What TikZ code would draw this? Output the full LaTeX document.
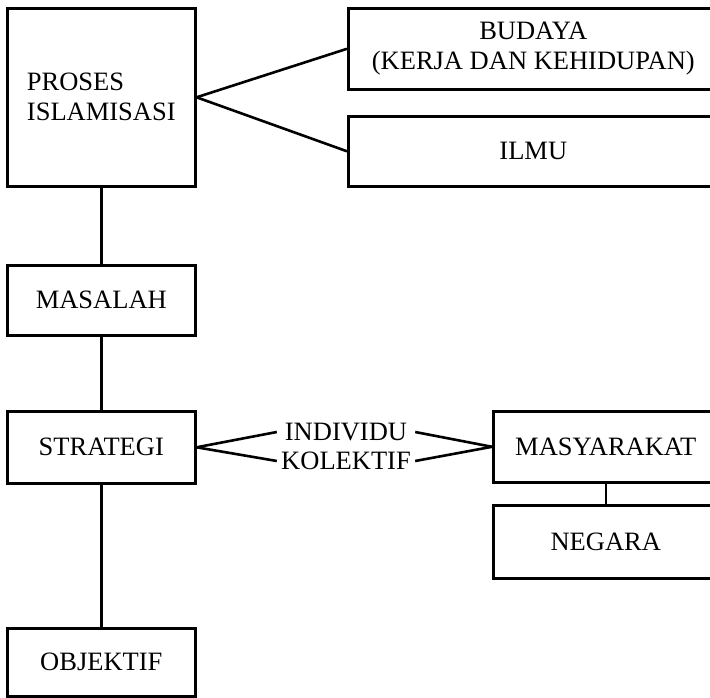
\documentclass[tikz,border=0pt]{standalone}
\usepackage{fontspec}
\setmainfont{Liberation Serif}
\begin{document}
\begin{tikzpicture}[x=1pt,y=-1pt,
  box/.style={draw, line width=2.6pt, anchor=north west, inner sep=0pt,
    font=\fontsize{26.5}{30}\selectfont, align=center},
  conn/.style={line width=2.6pt},
  lbl/.style={inner sep=0pt, minimum width=138pt, font=\fontsize{26.5}{30}\selectfont}]
\useasboundingbox (0,0) rectangle (710,698);
\node[box, minimum width=188pt, minimum height=178pt, align=left] (proses) at (6,7) {PROSES\\ISLAMISASI};
\node[box, minimum width=370pt, minimum height=81pt] (budaya) at (347,7) {BUDAYA\\(KERJA DAN KEHIDUPAN)};
\node[box, minimum width=370pt, minimum height=70pt] (ilmu) at (347,115) {ILMU};
\node[box, minimum width=188pt, minimum height=70pt] (masalah) at (6,264) {MASALAH};
\node[box, minimum width=188pt, minimum height=72pt] (strategi) at (6,410) {STRATEGI};
\node[box, minimum width=188pt, minimum height=68pt] (objektif) at (6,627) {OBJEKTIF};
\node[box, minimum width=225pt, minimum height=71pt] (masy) at (492,410) {MASYARAKAT};
\node[box, minimum width=225pt, minimum height=73pt] (negara) at (492,504) {NEGARA};
\node[lbl] (individu) at (346,432) {INDIVIDU};
\node[lbl] (kolektif) at (346,461) {KOLEKTIF};
\draw[conn] (proses.east) -- (budaya.west);
\draw[conn] (proses.east) -- (ilmu.west);
\draw[conn] (proses.south) -- (masalah.north);
\draw[conn] (masalah.south) -- (strategi.north);
\draw[conn] (strategi.south) -- (objektif.north);
\draw[conn] (strategi.east) -- (individu.west);
\draw[conn] (strategi.east) -- (kolektif.west);
\draw[conn] (individu.east) -- (masy.west);
\draw[conn] (kolektif.east) -- (masy.west);
\draw[conn] (masy.south) -- (negara.north);
\end{tikzpicture}
\end{document}
